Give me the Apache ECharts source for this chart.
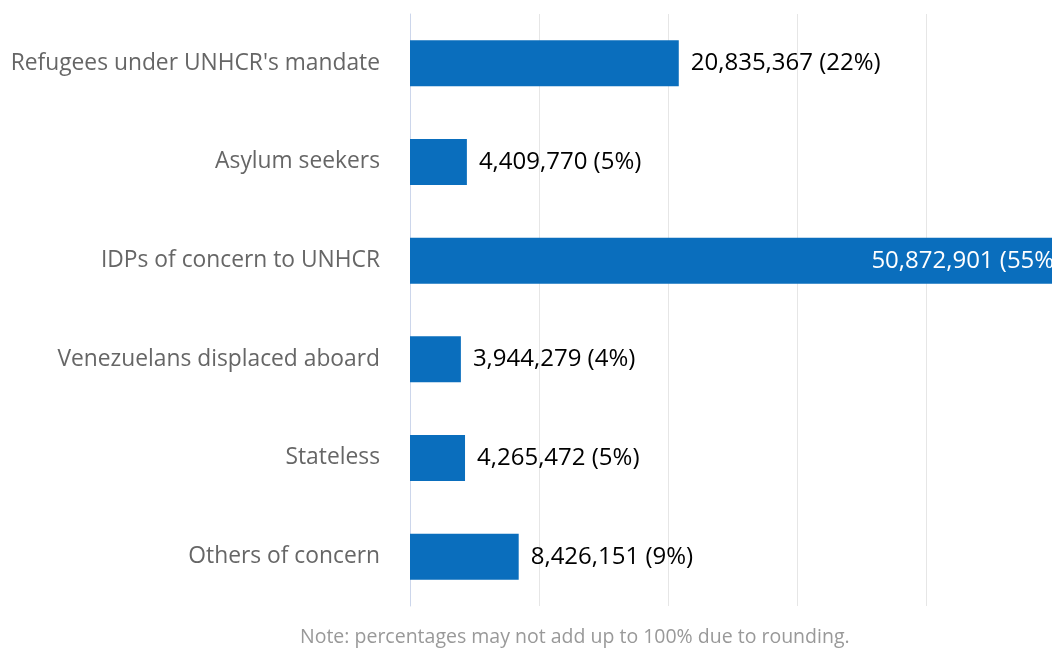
<!DOCTYPE html>
<html>
<head>
<meta charset="utf-8">
<script src="https://cdn.jsdelivr.net/npm/echarts@6/dist/echarts.min.js"></script>
<style>
html,body{margin:0;padding:0;background:#fff;overflow:hidden;width:1052px;height:649px;}
#chart{width:1200px;height:649px;}
</style>
</head>
<body>
<div id="chart"></div>
<script>
const categories = [
  "Refugees under UNHCR's mandate",
  "Asylum seekers",
  "IDPs of concern to UNHCR",
  "Venezuelans displaced aboard",
  "Stateless",
  "Others of concern"
];
const values = [20835367, 4409770, 50872901, 3944279, 4265472, 8426151];
const percents = ["22%", "5%", "55%", "4%", "5%", "9%"];
const note = "Note: percentages may not add up to 100% due to rounding.";

const FONT = "Open Sans";
const fmt = v => v.toString().replace(/\B(?=(\d{3})+(?!\d))/g, ",");

const data = values.map((v, i) => {
  const item = { value: v };
  if (i === 2) {
    item.label = { position: 'insideRight', color: '#ffffff', distance: 5 };
  }
  return item;
});

const chart = echarts.init(document.getElementById('chart'), null, { renderer: 'canvas' });
chart.setOption({
  animation: false,
  backgroundColor: '#ffffff',
  grid: { left: 410, top: 14, bottom: 43, right: 16, containLabel: false },
  xAxis: {
    type: 'value',
    min: 0,
    max: 60000000,
    interval: 10000000,
    axisLine: { show: false },
    axisTick: { show: false },
    axisLabel: { show: false },
    splitLine: { show: true, lineStyle: { color: '#e6e6e6', width: 1 } }
  },
  yAxis: {
    type: 'category',
    inverse: true,
    data: categories,
    axisLine: { show: true, lineStyle: { color: '#ccd6eb', width: 1 } },
    axisTick: { show: false },
    axisLabel: { color: '#666666', fontFamily: FONT, fontSize: 22.8, margin: 30 }
  },
  series: [{
    type: 'bar',
    data: data,
    barWidth: 46,
    itemStyle: { color: '#0a6ebd' },
    label: {
      show: true,
      position: 'right',
      distance: 12,
      color: '#000000',
      fontFamily: FONT,
      fontSize: 24,
      formatter: p => fmt(p.value) + ' (' + percents[p.dataIndex] + ')'
    }
  }],
  graphic: [{
    type: 'text',
    left: 300,
    top: 627,
    style: { text: note, fill: '#999999', font: '19.5px "' + FONT + '"' }
  }]
});
</script>
</body>
</html>
